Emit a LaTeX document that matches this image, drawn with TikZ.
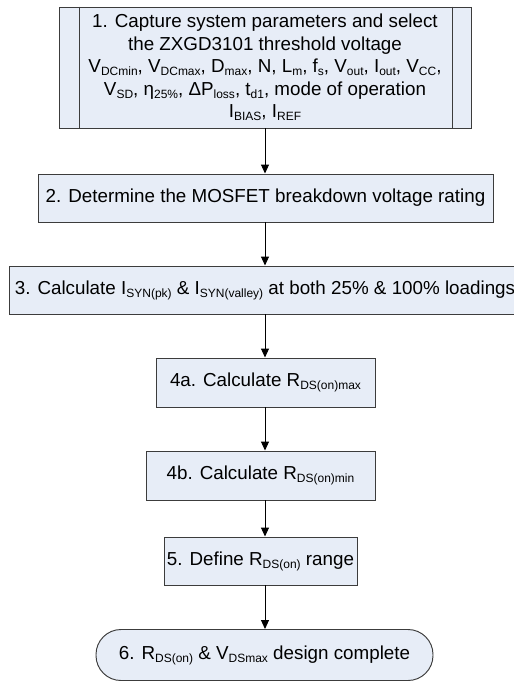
\documentclass[tikz,border=0pt]{standalone}
\usepackage{fontspec}
\setmainfont{Liberation Sans}
\usetikzlibrary{arrows.meta}
\definecolor{boxfill}{RGB}{231,237,247}
\definecolor{boxline}{RGB}{60,60,60}
\newcommand\sbs[1]{\raisebox{-0.3ex}{\fontsize{12}{12}\selectfont #1}}
\begin{document}
\begin{tikzpicture}[x=1pt,y=-1pt,
  stepbox/.style={draw=boxline,line width=0.95pt,fill=boxfill,inner sep=0pt,
    align=center,font=\fontsize{18.8}{22.5}\selectfont},
  arr/.style={draw=black,line width=0.95pt,-{Triangle[length=9pt,width=8pt]}}]
\useasboundingbox (0,0) rectangle (514,681);
\clip (0,0) rectangle (514,681);
% step 1: predefined-process box
\node[stepbox,minimum width=412pt,minimum height=121pt] (b1) at (265,67.5)
  {1. Capture system parameters and select\\
   the ZXGD3101 threshold voltage\\
   V\sbs{DCmin}, V\sbs{DCmax}, D\sbs{max}, N, L\sbs{m}, f\sbs{s}, V\sbs{out}, I\sbs{out}, V\sbs{CC},\\
   V\sbs{SD}, η\sbs{25\%}, ΔP\sbs{loss}, t\sbs{d1}, mode of operation\\
   I\sbs{BIAS}, I\sbs{REF}};
\draw[boxline,line width=0.95pt] ([xshift=21pt]b1.north west) -- ([xshift=21pt]b1.south west);
\draw[boxline,line width=0.95pt] ([xshift=-19pt]b1.north east) -- ([xshift=-19pt]b1.south east);
% process steps
\node[stepbox,minimum width=455pt,minimum height=48pt] (b2) at (265.5,198)
  {2. Determine the MOSFET breakdown voltage rating};
\node[stepbox,minimum width=512pt,minimum height=48pt] (b3) at (265,290)
  {3. Calculate I\sbs{SYN(pk)} \& I\sbs{SYN(valley)} at both 25\% \& 100\% loadings};
\node[stepbox,minimum width=219pt,minimum height=49pt] (b4a) at (265.5,382.5)
  {4a. Calculate R\sbs{DS(on)max}};
\node[stepbox,minimum width=229pt,minimum height=49pt] (b4b) at (260.5,475.5)
  {4b. Calculate R\sbs{DS(on)min}};
\node[stepbox,minimum width=193pt,minimum height=48pt] (b5) at (260.5,561)
  {5. Define R\sbs{DS(on)} range};
% terminator
\node[stepbox,rounded corners=25pt,minimum width=337pt,minimum height=51pt] (b6) at (264.5,655)
  {6. R\sbs{DS(on)} \& V\sbs{DSmax} design complete};
% connectors
\draw[arr] (b1.south) -- (b1.south |- b2.north);
\draw[arr] (b1.south |- b2.south) -- (b1.south |- b3.north);
\draw[arr] (b1.south |- b3.south) -- (b1.south |- b4a.north);
\draw[arr] (b1.south |- b4a.south) -- (b1.south |- b4b.north);
\draw[arr] (b1.south |- b4b.south) -- (b1.south |- b5.north);
\draw[arr] (b1.south |- b5.south) -- (b1.south |- b6.north);
\end{tikzpicture}
\end{document}
